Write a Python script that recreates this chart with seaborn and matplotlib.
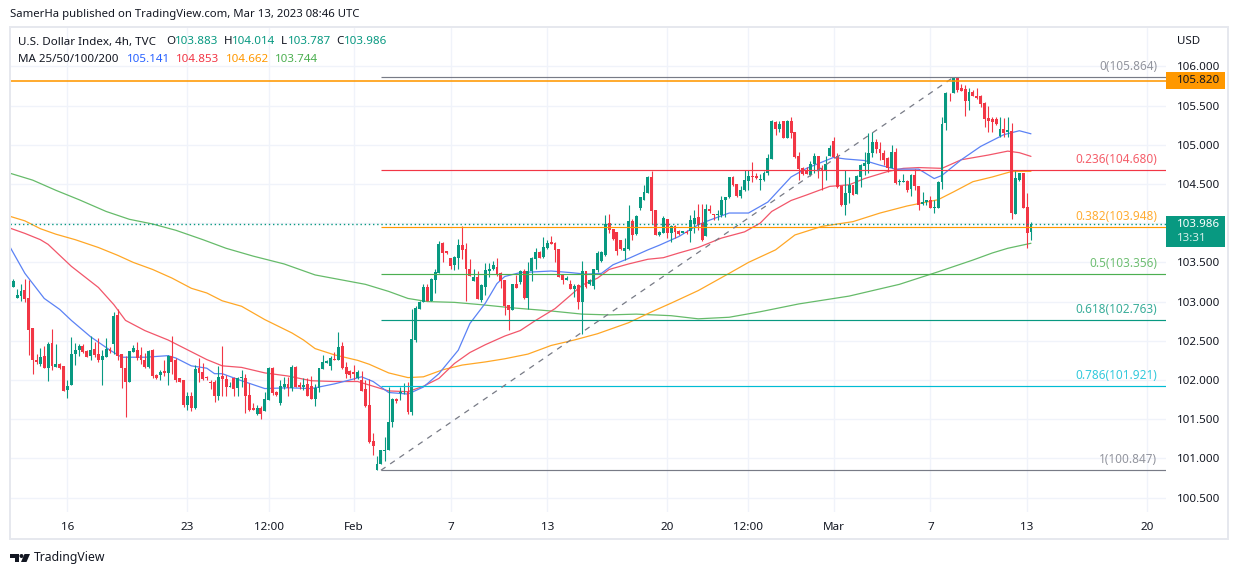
import numpy as np
import pandas as pd
import matplotlib
import matplotlib.pyplot as plt
import seaborn as sns
from matplotlib.patches import Rectangle, Polygon, Ellipse

matplotlib.use("Agg")

# 4h candles, bar -1 is the one cut off by the left edge
highs = [
    103.41, 103.29, 103.16, 103.23, 103.29, 103.28, 102.66, 102.33, 102.41, 102.43,
    102.48, 102.65, 102.46, 102.21, 102.18, 102.00, 102.55, 102.47, 102.46, 102.46,
    102.38, 102.56, 102.49, 102.53, 102.38, 102.54, 102.42, 102.87, 102.91, 102.33,
    102.30, 102.37, 102.44, 102.48, 102.42, 102.34, 102.38, 102.40, 102.08, 102.13,
    102.25, 102.32, 102.56, 102.28, 102.03, 102.00, 101.85, 101.85, 102.19, 102.28,
    102.22, 102.05, 102.00, 102.00, 102.18, 102.43, 102.06, 101.98, 102.04, 102.04,
    102.13, 102.08, 101.96, 101.71, 101.68, 101.67, 101.84, 102.17, 102.17, 101.86,
    102.00, 102.04, 102.04, 102.19, 102.18, 101.97, 102.03, 102.02, 102.05, 101.95,
    102.15, 102.32, 102.25, 102.30, 102.36, 102.61, 102.49, 102.23, 102.13, 102.19,
    102.13, 102.11, 102.00, 102.01, 101.32, 101.03, 101.11, 101.27, 101.91, 101.77,
    101.77, 101.91, 101.96, 101.97, 102.90, 102.94, 103.01, 103.22, 103.22, 103.30,
    103.41, 103.77, 103.76, 103.65, 103.56, 103.58, 103.80, 103.96, 103.75, 103.54,
    103.41, 103.39, 103.22, 103.49, 103.49, 103.52, 103.56, 103.38, 103.27, 102.96,
    103.22, 103.34, 103.40, 103.41, 103.50, 103.57, 103.69, 103.64, 103.82, 103.79,
    103.84, 103.76, 103.67, 103.34, 103.33, 103.28, 103.23, 103.23, 103.52, 103.39,
    103.29, 103.42, 103.64, 103.64, 104.10, 104.12, 103.93, 103.89, 103.79, 103.81,
    104.23, 104.06, 104.10, 104.34, 104.49, 104.60, 104.67, 104.17, 103.90, 104.09,
    104.06, 103.98, 103.98, 103.91, 103.90, 103.91, 104.11, 104.17, 104.25, 104.25,
    104.25, 104.23, 104.12, 104.17, 104.35, 104.34, 104.59, 104.60, 104.50, 104.47,
    104.68, 104.68, 104.78, 104.64, 104.63, 104.66, 104.88, 105.32, 105.30, 105.30,
    105.30, 105.32, 105.36, 105.17, 104.91, 104.72, 104.72, 104.79, 104.89, 104.86,
    104.74, 104.86, 105.00, 105.10, 104.89, 104.47, 104.68, 104.59, 104.49, 104.62,
    104.76, 104.91, 105.15, 105.17, 105.07, 105.03, 104.93, 104.84, 105.00, 104.96,
    104.57, 104.63, 104.55, 104.63, 104.69, 104.48, 104.40, 104.30, 104.35, 104.30,
    104.54, 105.36, 105.67, 105.66, 105.864, 105.86, 105.78, 105.76, 105.72, 105.70,
    105.72, 105.64, 105.55, 105.49, 105.36, 105.35, 105.35, 105.34, 105.35, 105.28,
    104.66, 104.64, 104.64, 104.39, 104.014,
]
lows = [
    103.17, 103.18, 103.05, 103.01, 102.99, 102.32, 102.08, 102.20, 102.18, 102.15,
    101.99, 102.13, 102.16, 102.14, 101.86, 101.77, 101.93, 102.19, 102.31, 102.34,
    102.29, 102.26, 102.29, 102.23, 101.94, 102.29, 102.34, 102.33, 102.25, 101.90,
    101.53, 101.97, 102.36, 102.26, 102.20, 102.15, 102.15, 102.03, 102.01, 102.00,
    102.05, 101.94, 102.08, 101.97, 101.97, 101.65, 101.62, 101.60, 101.63, 101.97,
    102.00, 102.00, 101.89, 101.72, 101.74, 101.79, 101.79, 101.91, 101.79, 101.79,
    101.91, 101.58, 101.61, 101.62, 101.55, 101.50, 101.60, 101.74, 101.81, 101.79,
    101.68, 101.89, 101.79, 101.86, 101.91, 101.89, 101.87, 101.79, 101.76, 101.67,
    101.85, 102.14, 102.21, 102.13, 102.25, 102.25, 102.14, 102.02, 102.03, 102.00,
    102.01, 101.86, 101.66, 101.20, 101.04, 100.847, 100.93, 100.96, 101.10, 101.40,
    101.70, 101.75, 101.82, 101.56, 101.55, 102.49, 102.90, 102.99, 103.01, 103.01,
    103.11, 103.36, 103.50, 103.61, 103.41, 103.40, 103.42, 103.54, 103.01, 103.33,
    103.26, 103.03, 103.00, 103.08, 103.32, 103.40, 103.33, 103.17, 102.83, 102.64,
    102.89, 103.17, 103.23, 103.03, 102.90, 103.26, 103.42, 103.56, 103.56, 103.67,
    103.73, 103.50, 103.31, 103.23, 103.28, 103.16, 103.06, 102.91, 102.59, 103.17,
    103.21, 103.16, 103.38, 103.51, 103.58, 103.87, 103.79, 103.59, 103.66, 103.53,
    103.66, 103.79, 103.85, 104.17, 104.29, 104.38, 103.99, 103.85, 103.84, 103.87,
    103.81, 103.76, 103.81, 103.85, 103.87, 103.86, 103.76, 103.87, 103.91, 103.77,
    103.84, 104.13, 104.04, 104.04, 104.08, 104.08, 104.32, 104.48, 104.33, 104.32,
    104.41, 104.42, 104.52, 104.56, 104.42, 104.54, 104.61, 104.82, 105.12, 105.16,
    105.09, 105.09, 105.09, 104.83, 104.55, 104.61, 104.63, 104.60, 104.64, 104.58,
    104.43, 104.55, 104.86, 104.83, 104.45, 104.22, 104.10, 104.26, 104.36, 104.37,
    104.46, 104.61, 104.64, 104.84, 104.89, 104.81, 104.74, 104.65, 104.70, 104.50,
    104.49, 104.52, 104.40, 104.35, 104.42, 104.17, 104.23, 104.23, 104.19, 104.13,
    104.19, 104.44, 105.19, 105.56, 105.66, 105.68, 105.69, 105.37, 105.44, 105.62,
    105.59, 105.48, 105.23, 105.16, 105.16, 105.25, 105.10, 105.10, 105.10, 104.05,
    104.12, 104.54, 104.20, 103.69, 103.787,
]
opens = [
    103.28, 103.18, 103.05, 103.07, 103.15, 103.05, 102.66, 102.25, 102.20, 102.30,
    102.15, 102.47, 102.17, 102.20, 102.18, 101.87, 101.93, 102.33, 102.38, 102.43,
    102.37, 102.31, 102.39, 102.33, 102.25, 102.29, 102.40, 102.46, 102.83, 102.33,
    102.15, 101.97, 102.36, 102.38, 102.32, 102.25, 102.16, 102.38, 102.06, 102.06,
    102.11, 102.09, 102.31, 102.25, 102.02, 102.00, 101.68, 101.80, 101.64, 102.15,
    102.10, 102.03, 101.98, 101.97, 101.79, 102.05, 102.01, 101.91, 102.02, 101.90,
    102.02, 102.03, 101.81, 101.64, 101.56, 101.64, 101.60, 101.75, 102.15, 101.85,
    101.71, 101.91, 101.95, 101.90, 102.17, 101.94, 101.91, 101.95, 101.92, 101.76,
    101.90, 102.14, 102.22, 102.18, 102.26, 102.25, 102.43, 102.16, 102.11, 102.10,
    102.02, 102.00, 101.88, 101.68, 101.22, 100.85, 100.93, 101.09, 101.10, 101.46,
    101.76, 101.83, 101.84, 101.85, 101.59, 102.51, 102.90, 103.00, 103.18, 103.01,
    103.28, 103.37, 103.75, 103.64, 103.55, 103.47, 103.55, 103.72, 103.67, 103.42,
    103.26, 103.32, 103.02, 103.19, 103.39, 103.41, 103.44, 103.36, 103.27, 102.96,
    102.89, 103.22, 103.25, 103.39, 103.04, 103.39, 103.54, 103.63, 103.57, 103.69,
    103.76, 103.75, 103.67, 103.34, 103.28, 103.23, 103.16, 103.21, 103.00, 103.39,
    103.22, 103.20, 103.40, 103.52, 103.59, 104.00, 103.93, 103.89, 103.79, 103.65,
    103.67, 104.03, 103.86, 104.19, 104.29, 104.39, 104.59, 104.17, 103.85, 103.88,
    104.06, 103.87, 103.96, 103.90, 103.87, 103.89, 103.90, 103.99, 104.08, 104.00,
    103.84, 104.18, 104.11, 104.10, 104.10, 104.30, 104.33, 104.59, 104.50, 104.35,
    104.42, 104.54, 104.60, 104.60, 104.55, 104.55, 104.64, 104.82, 105.29, 105.20,
    105.30, 105.09, 105.30, 105.16, 104.86, 104.70, 104.67, 104.61, 104.76, 104.86,
    104.71, 104.67, 104.86, 105.05, 104.86, 104.47, 104.23, 104.38, 104.49, 104.37,
    104.59, 104.73, 104.76, 104.89, 105.04, 104.95, 104.89, 104.83, 104.71, 104.91,
    104.52, 104.52, 104.54, 104.44, 104.62, 104.48, 104.24, 104.27, 104.30, 104.19,
    104.20, 104.53, 105.28, 105.64, 105.66, 105.85, 105.72, 105.71, 105.56, 105.67,
    105.62, 105.62, 105.54, 105.34, 105.33, 105.33, 105.11, 105.20, 105.16, 105.18,
    104.12, 104.55, 104.64, 104.21, 103.883,
]
closes = [
    103.18, 103.26, 103.08, 103.13, 103.03, 102.64, 102.25, 102.23, 102.29, 102.15,
    102.46, 102.18, 102.20, 102.15, 101.86, 101.92, 102.33, 102.38, 102.43, 102.36,
    102.29, 102.38, 102.32, 102.25, 102.30, 102.40, 102.37, 102.82, 102.31, 102.15,
    101.97, 102.37, 102.41, 102.28, 102.25, 102.16, 102.37, 102.05, 102.03, 102.10,
    102.09, 102.31, 102.23, 102.00, 101.98, 101.68, 101.80, 101.64, 102.14, 102.09,
    102.01, 102.02, 101.96, 101.79, 102.04, 102.01, 101.91, 101.92, 101.89, 102.02,
    102.03, 101.79, 101.62, 101.62, 101.64, 101.57, 101.76, 102.15, 101.83, 101.81,
    101.92, 101.95, 101.90, 102.17, 101.91, 101.91, 101.94, 101.80, 101.76, 101.90,
    102.15, 102.23, 102.24, 102.28, 102.25, 102.42, 102.15, 102.08, 102.06, 102.08,
    102.10, 101.86, 101.67, 101.21, 101.16, 100.93, 101.10, 101.11, 101.46, 101.76,
    101.73, 101.85, 101.85, 101.59, 102.52, 102.92, 103.00, 103.19, 103.01, 103.29,
    103.38, 103.74, 103.62, 103.62, 103.46, 103.57, 103.72, 103.66, 103.42, 103.33,
    103.31, 103.03, 103.21, 103.40, 103.42, 103.47, 103.35, 103.26, 102.94, 102.89,
    103.22, 103.17, 103.39, 103.04, 103.39, 103.56, 103.63, 103.56, 103.70, 103.75,
    103.74, 103.66, 103.32, 103.28, 103.30, 103.16, 103.20, 103.00, 103.39, 103.18,
    103.28, 103.42, 103.62, 103.63, 103.99, 103.91, 103.80, 103.65, 103.67, 103.68,
    104.03, 103.85, 104.09, 104.33, 104.40, 104.59, 104.16, 103.85, 103.89, 104.07,
    103.87, 103.96, 103.89, 103.86, 103.90, 103.87, 104.04, 104.07, 103.98, 103.78,
    104.18, 104.16, 104.10, 104.11, 104.30, 104.33, 104.59, 104.49, 104.35, 104.42,
    104.55, 104.60, 104.59, 104.58, 104.56, 104.64, 104.83, 105.30, 105.20, 105.27,
    105.09, 105.30, 105.15, 104.84, 104.69, 104.63, 104.63, 104.76, 104.86, 104.67,
    104.67, 104.75, 104.96, 104.84, 104.46, 104.23, 104.38, 104.49, 104.36, 104.60,
    104.74, 104.77, 104.89, 105.04, 104.95, 104.89, 104.81, 104.71, 104.91, 104.51,
    104.54, 104.54, 104.43, 104.62, 104.47, 104.23, 104.27, 104.29, 104.19, 104.21,
    104.53, 105.27, 105.66, 105.63, 105.85, 105.70, 105.69, 105.56, 105.67, 105.62,
    105.60, 105.52, 105.33, 105.30, 105.29, 105.27, 105.20, 105.15, 105.19, 104.13,
    104.58, 104.64, 104.20, 103.88, 103.986,
]

# moving averages, read at the bars where the curve bends
ma25_bars = [-1, 3, 8, 12, 15, 20, 25, 28, 34, 40, 42, 46, 50, 52, 54, 59, 65, 71, 77, 83,
             87, 90, 93, 97, 102, 106, 110, 115, 118, 122, 125, 127, 131, 135, 139, 144,
             148, 152, 155, 159, 164, 167, 172, 177, 180, 185, 190, 195, 201, 205, 212,
             215, 220, 224, 228, 234, 238, 240, 245, 250, 256, 260, 263]
ma25_vals = [103.71, 103.36, 103.04, 102.90, 102.76, 102.55, 102.38, 102.29, 102.29, 102.31,
             102.28, 102.18, 102.15, 102.08, 102.08, 101.99, 101.89, 101.90, 101.89, 101.95,
             102.00, 102.04, 101.98, 101.84, 101.82, 101.91, 102.08, 102.38, 102.72, 102.98,
             103.23, 103.32, 103.37, 103.38, 103.39, 103.37, 103.35, 103.36, 103.47, 103.55,
             103.66, 103.72, 103.83, 103.98, 104.04, 104.13, 104.13, 104.27, 104.59, 104.70,
             104.84, 104.82, 104.80, 104.74, 104.69, 104.69, 104.57, 104.61, 104.81, 104.98,
             105.13, 105.18, 105.141]
ma50_bars = [-1, 3, 7, 9, 15, 22, 26, 29, 34, 40, 46, 50, 54, 59, 65, 71, 77, 83, 89, 93, 97,
             102, 106, 110, 114, 118, 122, 127, 131, 135, 140, 144, 147, 151, 154, 159, 164,
             168, 172, 177, 183, 189, 193, 196, 201, 205, 211, 216, 220, 226, 230, 234, 240,
             245, 252, 257, 260, 263]
ma50_vals = [103.94, 103.87, 103.79, 103.73, 103.45, 103.18, 102.96, 102.76, 102.63, 102.51,
             102.36, 102.26, 102.18, 102.16, 102.09, 102.05, 101.99, 101.98, 101.98, 101.92,
             101.86, 101.85, 101.92, 102.02, 102.21, 102.35, 102.45, 102.56, 102.63, 102.76,
             102.91, 103.08, 103.21, 103.30, 103.41, 103.48, 103.54, 103.56, 103.62, 103.69,
             103.81, 103.89, 104.00, 104.15, 104.29, 104.36, 104.47, 104.49, 104.57, 104.66,
             104.70, 104.71, 104.70, 104.81, 104.87, 104.92, 104.90, 104.853]
ma100_bars = [-1, 3, 7, 11, 16, 22, 27, 31, 36, 41, 46, 50, 54, 59, 65, 72, 75, 78, 83, 89,
              92, 97, 102, 106, 111, 116, 122, 127, 133, 139, 145, 151, 159, 165, 170, 177,
              185, 190, 197, 202, 209, 217, 224, 231, 239, 243, 248, 253, 258, 263]
ma100_vals = [104.09, 104.03, 103.93, 103.86, 103.79, 103.69, 103.59, 103.50, 103.41, 103.30,
              103.17, 103.11, 103.01, 102.94, 102.77, 102.60, 102.51, 102.40, 102.32, 102.25,
              102.20, 102.09, 102.03, 102.04, 102.13, 102.19, 102.23, 102.27, 102.33, 102.44,
              102.51, 102.59, 102.73, 102.87, 102.98, 103.14, 103.36, 103.50, 103.66, 103.85,
              103.96, 104.02, 104.13, 104.22, 104.30, 104.40, 104.53, 104.59, 104.66, 104.662]
ma200_bars = [-1, 5, 11, 17, 24, 30, 36, 42, 49, 55, 62, 70, 78, 91, 97, 102, 107, 114, 121,
              129, 139, 147, 154, 161, 170, 177, 185, 193, 203, 216, 229, 239, 248, 253, 257,
              263]
ma200_vals = [104.64, 104.55, 104.42, 104.30, 104.15, 104.05, 103.99, 103.91, 103.79, 103.68,
              103.58, 103.48, 103.34, 103.22, 103.13, 103.04, 103.00, 102.99, 102.96, 102.92,
              102.88, 102.84, 102.83, 102.84, 102.82, 102.78, 102.80, 102.87, 102.97, 103.07,
              103.22, 103.38, 103.53, 103.62, 103.68, 103.744]

# fibonacci retracement
fib_names = ["0", "0.236", "0.382", "0.5", "0.618", "0.786", "1"]
fib_levels = [105.864, 104.680, 103.948, 103.356, 102.763, 101.921, 100.847]
fib_colors = ["#787b86", "#f23645", "#ff9800", "#4caf50", "#089981", "#00bcd4", "#787b86"]
fib_start = 95
trend_bars = [95, 243]
trend_vals = [100.847, 105.864]

hline_level = 105.820
last_price = 103.986

price_ticks = [106.0, 105.5, 105.0, 104.5, 104.0, 103.5, 103.0, 102.5, 102.0, 101.5, 101.0, 100.5]
date_bars = [14, 45, 66, 88, 113, 138, 169, 190, 212, 237, 262, 293]
date_labels = ["16", "23", "12:00", "Feb", "7", "13", "20", "12:00", "Mar", "7", "13", "20"]
bold_dates = ["Feb", "Mar"]

UP = "#089981"
DOWN = "#f23645"
TEXT = "#131722"
GRID = "#f0f3fa"
W, H = 1240, 575


def fx(x):
    return x / W


def fy(y):
    return 1 - y / H


def fxy(points):
    return [(fx(x), fy(y)) for x, y in points]


sns.set_theme(style="white")
plt.rcParams["font.family"] = ["Noto Sans", "DejaVu Sans"]

fig = plt.figure(figsize=(12.4, 5.75), dpi=100)
ax = fig.add_axes([fx(10), fy(512), fx(1166) - fx(10), fy(28) - fy(512)])
ax.set_xlim(-0.85, 297.9)
ax.set_ylim(100.315, 106.491)

candles = pd.DataFrame({"open": opens, "high": highs, "low": lows, "close": closes})
candles["bar"] = np.arange(-1, len(candles) - 1)
candles["color"] = np.where(candles["close"] >= candles["open"], UP, DOWN)

ax.set_yticks(price_ticks)
ax.set_xticks(date_bars)
ax.grid(True, color=GRID, lw=1.0, zorder=0)
ax.set_axisbelow(True)

# moving averages sit under the candles
ma_series = [
    (ma200_bars, ma200_vals, "#66bb6a"),
    (ma100_bars, ma100_vals, "#ffa726"),
    (ma50_bars, ma50_vals, "#f2566a"),
    (ma25_bars, ma25_vals, "#5b82f5"),
]
for bars, vals, col in ma_series:
    sns.lineplot(x=bars, y=vals, color=col, lw=0.9, ax=ax, zorder=2, estimator=None)

ax.vlines(candles["bar"], candles["low"], candles["high"], colors=candles["color"], lw=0.8, zorder=3)
body_low = candles[["open", "close"]].min(axis=1)
body_size = (candles["open"] - candles["close"]).abs().clip(lower=0.012)
ax.bar(candles["bar"], body_size, bottom=body_low, width=0.75, color=candles["color"], lw=0, zorder=3)

# retracement levels and their labels
for name, level, col in zip(fib_names, fib_levels, fib_colors):
    ax.hlines(level, fib_start, ax.get_xlim()[1], color=col, lw=0.85, zorder=4)
    ax.annotate(f"{name}({level:.3f})", (295.6, level), xytext=(0, 3), textcoords="offset points",
                ha="right", va="bottom", color=col, alpha=0.8, fontsize=8.5, zorder=5)
ax.plot(trend_bars, trend_vals, color="#787b86", lw=0.9, ls=(0, (4.5, 4.5)), zorder=4)

ax.axhline(hline_level, color="#ff9800", lw=1.15, zorder=4)
ax.axhline(last_price, color=UP, lw=1.0, ls=(0, (1, 2)), zorder=4)

ax.yaxis.tick_right()
ax.set_yticklabels([f"{p:.3f}" for p in price_ticks], fontsize=8.3, color=TEXT)
ax.set_xticklabels(date_labels, fontsize=8.4, color=TEXT)
for lab in ax.get_xticklabels():
    if lab.get_text() in bold_dates:
        lab.set_fontweight("bold")
ax.tick_params(axis="y", length=0, pad=8)
ax.tick_params(axis="x", length=0, pad=7)
sns.despine(ax=ax, left=True, right=True, top=True, bottom=True)

# price scale tags
tag_tr = ax.get_yaxis_transform()
tag_w = (1225 - 1166) / (1166 - 10)
ax.add_patch(Rectangle((1.0, hline_level - 0.11), tag_w, 0.22, transform=tag_tr, fc="#ff9800", ec="none",
                       clip_on=False, zorder=6))
ax.text(1 + 11 / 1156, hline_level, f"{hline_level:.3f}", transform=tag_tr, color=TEXT, fontsize=8.3,
        va="center", clip_on=False, zorder=7)
ax.add_patch(Rectangle((1.0, last_price - 0.285), tag_w, 0.39, transform=tag_tr, fc=UP, ec="none",
                       clip_on=False, zorder=6))
ax.text(1 + 11 / 1156, last_price, f"{last_price:.3f}", transform=tag_tr, color="white", fontsize=8.3,
        fontweight="bold", va="center", clip_on=False, zorder=7)
ax.text(1 + 11 / 1156, last_price - 0.175, "13:31", transform=tag_tr, color="#d5efe9", fontsize=8.3,
        va="center", clip_on=False, zorder=7)

# outer frame
fig.add_artist(Rectangle((fx(9.5), fy(539)), fx(1228) - fx(9.5), fy(27) - fy(539), transform=fig.transFigure,
                         fc="none", ec="#e6e8ee", lw=1.4))

# header and legend
fig.text(fx(10), fy(15), "SamerHa published on TradingView.com, Mar 13, 2023 08:46 UTC",
         fontsize=8.15, color=TEXT, va="center")
fig.text(fx(1177), fy(41), "USD", fontsize=8.3, color=TEXT, va="center")
legend_rows = [
    (42, [(18, "U.S. Dollar Index, 4h, TVC", TEXT), (166, "O", TEXT), (175, "103.883", UP), (224, "H", TEXT),
          (232, "104.014", UP), (281, "L", TEXT), (288, "103.787", UP), (336, "C", TEXT), (344, "103.986", UP)]),
    (59, [(18, "MA 25/50/100/200", TEXT), (127, "105.141", "#2962ff"), (176, "104.853", DOWN),
          (226, "104.662", "#ff9800"), (275, "103.744", "#4caf50")]),
]
for row_y, parts in legend_rows:
    for px, txt, col in parts:
        fig.text(fx(px), fy(row_y), txt, fontsize=8.35, color=col, va="center")

# footer logo and name
logo = "#131722"
fig.add_artist(Polygon(fxy([(10, 554), (19, 554), (19, 562), (14.5, 562), (14.5, 558), (10, 558)]),
                       transform=fig.transFigure, fc=logo, ec="none"))
fig.add_artist(Ellipse((fx(21.5), fy(556)), 4 / W, 4 / H, transform=fig.transFigure, fc=logo, ec="none"))
fig.add_artist(Polygon(fxy([(24.5, 554), (30, 554), (26.5, 562), (21, 562)]),
                       transform=fig.transFigure, fc=logo, ec="none"))
fig.text(fx(34), fy(557), "TradingView", fontsize=8.8, color=TEXT, va="center")

fig.savefig("out.png", dpi=100, facecolor="white")
